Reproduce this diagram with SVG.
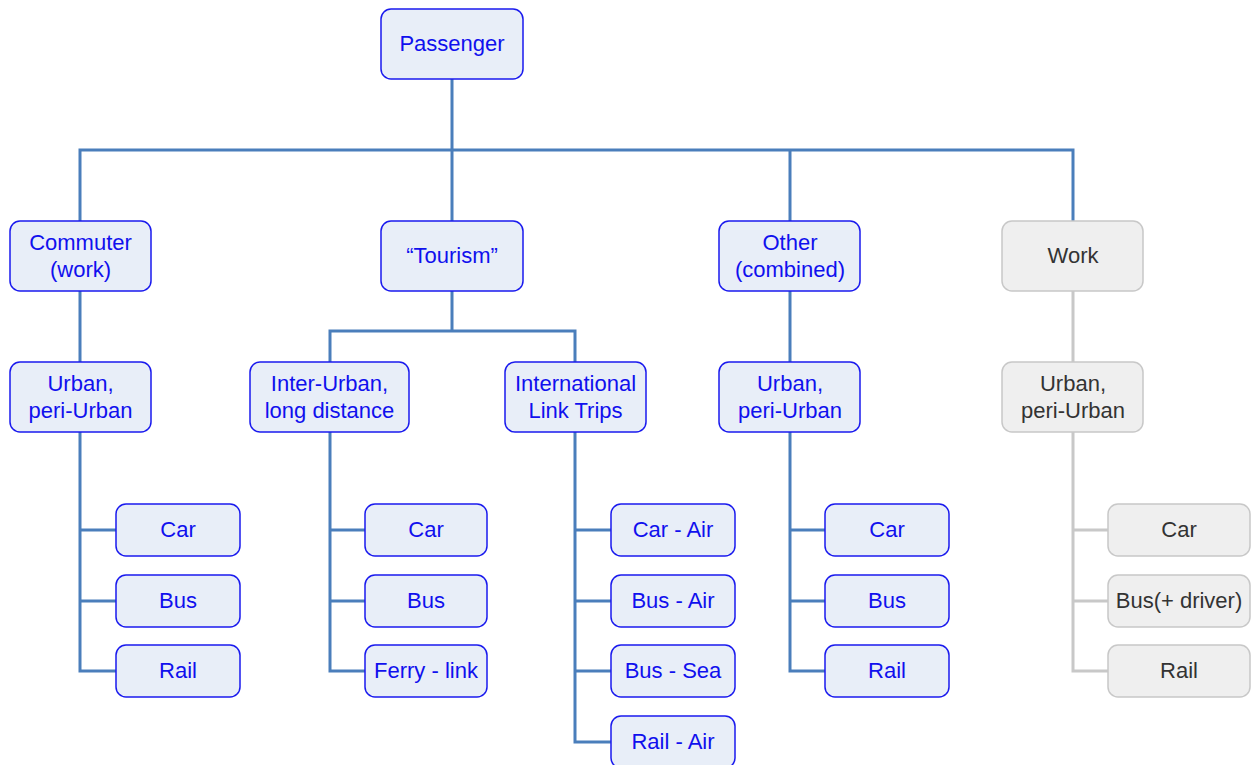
<svg xmlns="http://www.w3.org/2000/svg" width="1251" height="765" viewBox="0 0 1251 765">
<style>
.n rect{fill:#e8eef8;stroke:#1a1aee;stroke-width:1.5}
.n text{fill:#1010ee;font-family:"Liberation Sans",Arial,sans-serif;font-size:22px;text-anchor:middle}
.g rect{fill:#efefef;stroke:#c8c8c8;stroke-width:1.5}
.g text{fill:#333;font-family:"Liberation Sans",Arial,sans-serif;font-size:22px;text-anchor:middle}
.c path{fill:none;stroke:#4a7ebb;stroke-width:3}
.c path.gr{stroke:#c8c8c8}
</style>
<rect width="1251" height="765" fill="#fff"/>
<g class="c" id="connectors">
<path d="M452 79V150M80 221V150H1073V221M452 150V221M790 150V221"/>
<path d="M80 291V362M452 291V331M330 362V331H575V362M790 291V362"/>
<path d="M80 432V671H116M80 530H116M80 601H116"/>
<path d="M330 432V671H365M330 530H365M330 601H365"/>
<path d="M575 432V742H611M575 530H611M575 601H611M575 671H611"/>
<path d="M790 432V671H825M790 530H825M790 601H825"/>
<path class="gr" d="M1073 291V362M1073 432V671H1108M1073 530H1108M1073 601H1108"/>
</g>
<g class="n" id="passenger"><rect x="381" y="9" width="142" height="70" rx="10"/><text x="452" y="51">Passenger</text></g>
<g class="n" id="commuter"><rect x="10" y="221" width="141" height="70" rx="10"/><text x="80.5" y="250">Commuter</text><text x="80.5" y="277">(work)</text></g>
<g class="n" id="tourism"><rect x="381" y="221" width="142" height="70" rx="10"/><text x="452" y="263">“Tourism”</text></g>
<g class="n" id="other"><rect x="719" y="221" width="141" height="70" rx="10"/><text x="790" y="250">Other</text><text x="790" y="277">(combined)</text></g>
<g class="g" id="work"><rect x="1002" y="221" width="141" height="70" rx="10"/><text x="1073" y="263">Work</text></g>
<g class="n" id="commuter-urban"><rect x="10" y="362" width="141" height="70" rx="10"/><text x="80.5" y="391">Urban,</text><text x="80.5" y="418">peri-Urban</text></g>
<g class="n" id="inter-urban"><rect x="250" y="362" width="159" height="70" rx="10"/><text x="329.5" y="391">Inter-Urban,</text><text x="329.5" y="418">long distance</text></g>
<g class="n" id="international"><rect x="505" y="362" width="141" height="70" rx="10"/><text x="575.5" y="391">International</text><text x="575.5" y="418">Link Trips</text></g>
<g class="n" id="other-urban"><rect x="719" y="362" width="141" height="70" rx="10"/><text x="790" y="391">Urban,</text><text x="790" y="418">peri-Urban</text></g>
<g class="g" id="work-urban"><rect x="1002" y="362" width="141" height="70" rx="10"/><text x="1073" y="391">Urban,</text><text x="1073" y="418">peri-Urban</text></g>
<g class="n" id="c-car"><rect x="116" y="504" width="124" height="52" rx="10"/><text x="178" y="537">Car</text></g>
<g class="n" id="c-bus"><rect x="116" y="575" width="124" height="52" rx="10"/><text x="178" y="608">Bus</text></g>
<g class="n" id="c-rail"><rect x="116" y="645" width="124" height="52" rx="10"/><text x="178" y="678">Rail</text></g>
<g class="n" id="t-car"><rect x="365" y="504" width="122" height="52" rx="10"/><text x="426" y="537">Car</text></g>
<g class="n" id="t-bus"><rect x="365" y="575" width="122" height="52" rx="10"/><text x="426" y="608">Bus</text></g>
<g class="n" id="t-ferry"><rect x="365" y="645" width="122" height="52" rx="10"/><text x="426" y="678">Ferry - link</text></g>
<g class="n" id="i-carair"><rect x="611" y="504" width="124" height="52" rx="10"/><text x="673" y="537">Car - Air</text></g>
<g class="n" id="i-busair"><rect x="611" y="575" width="124" height="52" rx="10"/><text x="673" y="608">Bus - Air</text></g>
<g class="n" id="i-bussea"><rect x="611" y="645" width="124" height="52" rx="10"/><text x="673" y="678">Bus - Sea</text></g>
<g class="n" id="i-railair"><rect x="611" y="716" width="124" height="52" rx="10"/><text x="673" y="749">Rail - Air</text></g>
<g class="n" id="o-car"><rect x="825" y="504" width="124" height="52" rx="10"/><text x="887" y="537">Car</text></g>
<g class="n" id="o-bus"><rect x="825" y="575" width="124" height="52" rx="10"/><text x="887" y="608">Bus</text></g>
<g class="n" id="o-rail"><rect x="825" y="645" width="124" height="52" rx="10"/><text x="887" y="678">Rail</text></g>
<g class="g" id="w-car"><rect x="1108" y="504" width="142" height="52" rx="10"/><text x="1179" y="537">Car</text></g>
<g class="g" id="w-bus"><rect x="1108" y="575" width="142" height="52" rx="10"/><text x="1179" y="608">Bus(+ driver)</text></g>
<g class="g" id="w-rail"><rect x="1108" y="645" width="142" height="52" rx="10"/><text x="1179" y="678">Rail</text></g>
</svg>
